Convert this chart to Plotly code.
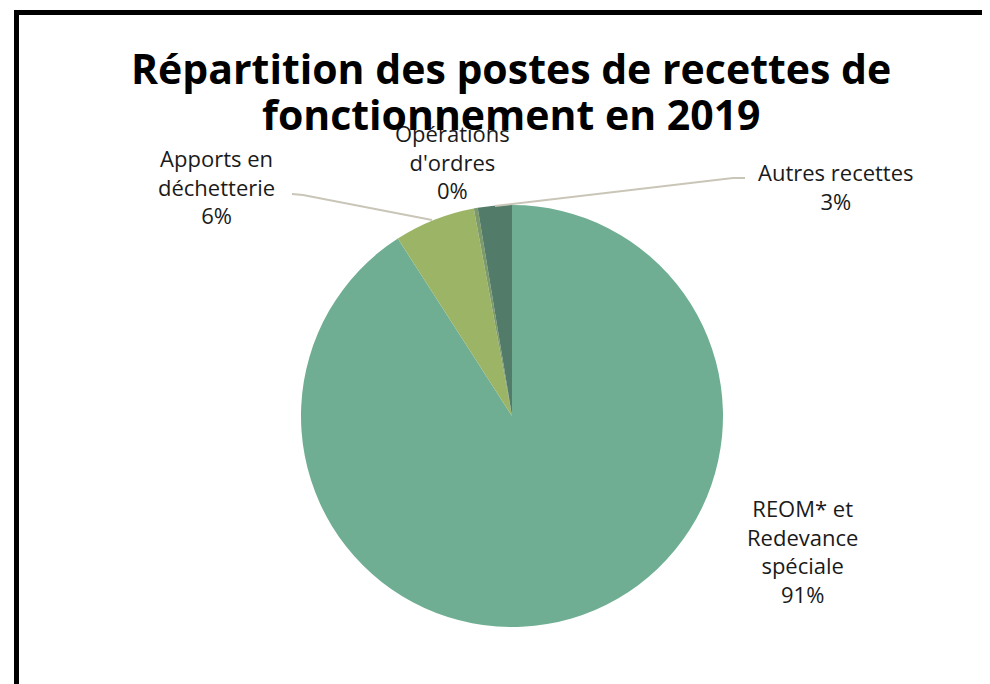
import plotly.graph_objects as go

# data
labels = ["REOM* et<br>Redevance<br>spéciale", "Apports en<br>déchetterie", "Opérations<br>d'ordres", "Autres recettes"]
values = [90.9, 6.2, 0.3, 2.6]
pct_text = ["91%", "6%", "0%", "3%"]
colors = ["#6fae93", "#9cb465", "#7d9a6b", "#527c69"]
title_lines = ["Répartition des postes de recettes de", "fonctionnement en 2019"]

W, H = 990, 684
OFF = 8  # page body margin


def px(x):
    return (x - OFF) / W


def py(y):
    return 1 - (y - OFF) / H


fig = go.Figure(go.Pie(
    labels=labels,
    values=values,
    sort=False,
    direction="clockwise",
    rotation=0,
    textinfo="none",
    hoverinfo="label+percent",
    marker=dict(colors=colors, line=dict(width=0)),
    domain=dict(x=[px(301), px(723)], y=[py(627), py(205)]),
    showlegend=False,
))

# label positions (pixel centres) for each slice
label_pos = [(802, 551), (216, 186), (452, 162), (836, 186)]
lab_font = dict(family="Open Sans, Lato, sans-serif", size=22, color="#1a1a1a")
for lab, pct, (x, y) in zip(labels, pct_text, label_pos):
    fig.add_annotation(x=px(x), y=py(y), xref="paper", yref="paper",
                       text=lab + "<br>" + pct, showarrow=False,
                       xanchor="center", yanchor="middle", align="center",
                       font=lab_font)

# leader lines
leader = "#c9c6b8"
fig.add_shape(type="path", xref="paper", yref="paper",
              path=f"M {px(292)} {py(194)} L {px(303)} {py(195)} L {px(432)} {py(220)}",
              line=dict(color=leader, width=2))
fig.add_shape(type="path", xref="paper", yref="paper",
              path=f"M {px(495)} {py(206)} L {px(733)} {py(178)} L {px(745)} {py(178)}",
              line=dict(color=leader, width=2))

# chart frame (only top and left edges are visible)
fig.add_shape(type="line", xref="paper", yref="paper",
              x0=px(14), x1=px(1000), y0=py(12.5), y1=py(12.5),
              line=dict(color="black", width=5))
fig.add_shape(type="line", xref="paper", yref="paper",
              x0=px(16.5), x1=px(16.5), y0=py(10), y1=py(700),
              line=dict(color="black", width=5))

# title, two lines, drawn over the labels like in the original
for line, y in zip(title_lines, [68, 114]):
    fig.add_annotation(x=px(511), y=py(y), xref="paper", yref="paper",
                       text=f"<b>{line}</b>", showarrow=False,
                       xanchor="center", yanchor="middle",
                       font=dict(family="Open Sans, Lato, sans-serif", size=41, color="black"))

fig.update_layout(
    width=W, height=H,
    margin=dict(l=0, r=0, t=0, b=0),
    paper_bgcolor="white",
)

fig.write_html("out.html")
